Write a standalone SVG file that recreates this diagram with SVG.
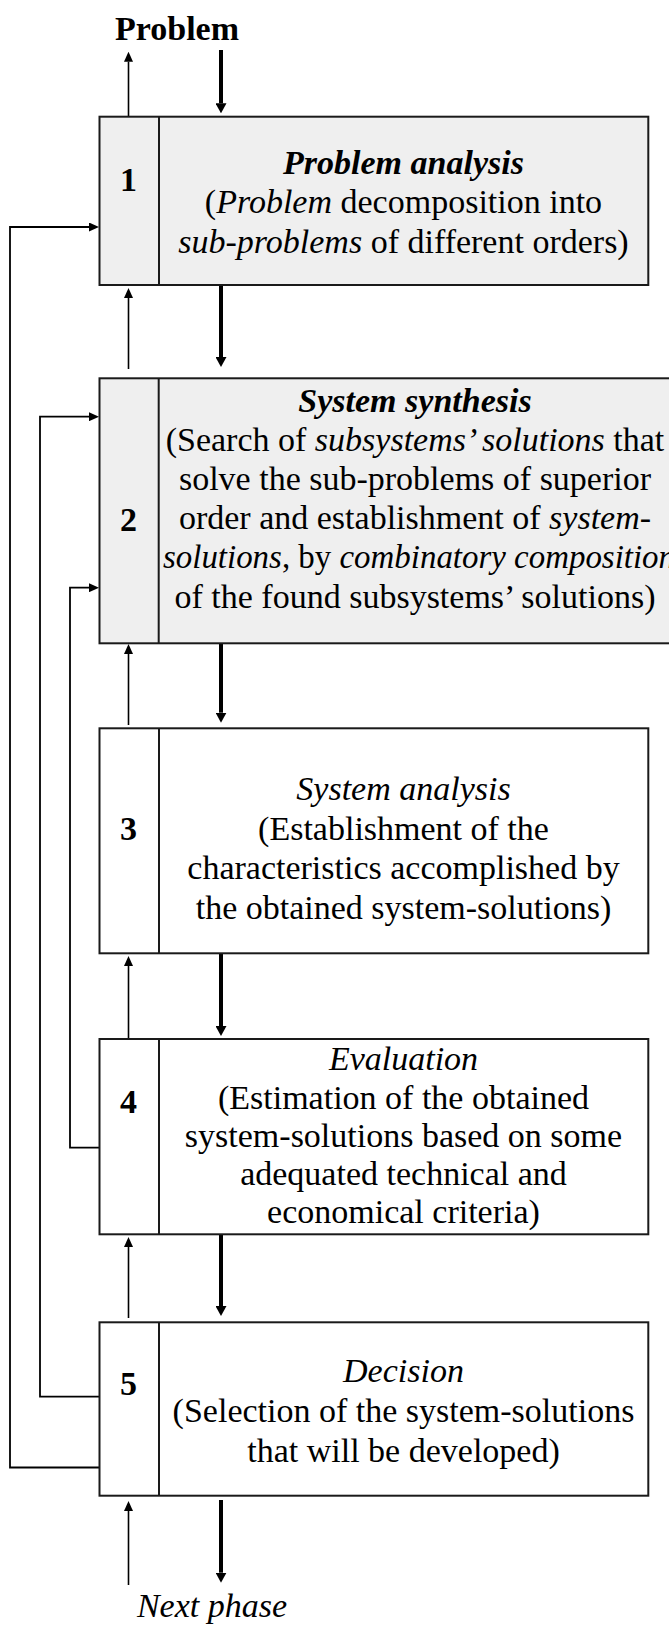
<svg xmlns="http://www.w3.org/2000/svg" width="669" height="1626" viewBox="0 0 669 1626">
<style>
  .box { stroke: #1a1a1a; stroke-width: 2; }
  .gray { fill: #efefef; }
  .white { fill: #ffffff; }
  .div { stroke: #1a1a1a; stroke-width: 2; fill: none; }
  text { font-family: "Liberation Serif", "Times New Roman", serif; font-size: 34px; fill: #000; }
  .c { text-anchor: middle; }
  .num { font-weight: bold; text-anchor: middle; }
  .i { font-style: italic; }
  .bi { font-style: italic; font-weight: bold; }
  .b { font-weight: bold; }
  .thin { stroke: #000; stroke-width: 1.6; fill: none; }
  .thick { stroke: #000; stroke-width: 4; fill: none; }
  .fb { stroke: #000; stroke-width: 1.8; fill: none; }
</style>
<defs>
  <marker id="hThin" markerUnits="userSpaceOnUse" markerWidth="10" markerHeight="9" refX="0" refY="4.5" orient="auto" viewBox="0 0 10 9">
    <path d="M0,0 L10,4.5 L0,9 z" fill="#000"/>
  </marker>
  <marker id="hThick" markerUnits="userSpaceOnUse" markerWidth="10" markerHeight="11" refX="0" refY="5.5" orient="auto" viewBox="0 0 10 11">
    <path d="M0,0 L10,5.5 L0,11 z" fill="#000"/>
  </marker>
</defs>

<g id="connectors">
  <line class="thin" x1="128.5" y1="116.7" x2="128.5" y2="61.7" marker-end="url(#hThin)"/>
  <line class="thin" x1="128.5" y1="369" x2="128.5" y2="298" marker-end="url(#hThin)"/>
  <line class="thin" x1="128.5" y1="725" x2="128.5" y2="654" marker-end="url(#hThin)"/>
  <line class="thin" x1="128.5" y1="1039" x2="128.5" y2="966" marker-end="url(#hThin)"/>
  <line class="thin" x1="128.5" y1="1318" x2="128.5" y2="1247" marker-end="url(#hThin)"/>
  <line class="thin" x1="128.5" y1="1585" x2="128.5" y2="1511" marker-end="url(#hThin)"/>
  <line class="thick" x1="221" y1="50" x2="221" y2="103.3" marker-end="url(#hThick)"/>
  <line class="thick" x1="221" y1="285" x2="221" y2="357" marker-end="url(#hThick)"/>
  <line class="thick" x1="221" y1="643" x2="221" y2="712.7" marker-end="url(#hThick)"/>
  <line class="thick" x1="221" y1="953" x2="221" y2="1026" marker-end="url(#hThick)"/>
  <line class="thick" x1="221" y1="1234" x2="221" y2="1306" marker-end="url(#hThick)"/>
  <line class="thick" x1="221" y1="1500" x2="221" y2="1572.7" marker-end="url(#hThick)"/>
  <polyline class="fb" points="99.5,1467.5 10,1467.5 10,227 89,227" marker-end="url(#hThin)"/>
  <polyline class="fb" points="99.5,1396.7 40,1396.7 40,416.7 89,416.7" marker-end="url(#hThin)"/>
  <polyline class="fb" points="99.5,1147.7 70,1147.7 70,587.7 89,587.7" marker-end="url(#hThin)"/>
</g>

<g id="label-problem">
  <text class="b c" x="177" y="40">Problem</text>
</g>

<g id="node1">
  <rect class="box gray" x="99.5" y="116.7" width="548.8" height="168.3"/>
  <line class="div" x1="159" y1="116.7" x2="159" y2="285"/>
  <text class="num" x="128.5" y="190.7">1</text>
  <text class="c" x="403.5" y="174"><tspan class="bi">Problem analysis</tspan></text>
  <text class="c" x="403.5" y="213.3">(<tspan class="i">Problem</tspan> decomposition into</text>
  <text class="c" x="403.5" y="252.7"><tspan class="i">sub-problems</tspan> of different orders)</text>
</g>

<g id="node2">
  <rect class="box gray" x="99.5" y="378.3" width="573" height="265"/>
  <line class="div" x1="158.7" y1="378.3" x2="158.7" y2="643.3"/>
  <text class="num" x="128.5" y="530.7">2</text>
  <text class="c" x="415" y="411.7"><tspan class="bi">System synthesis</tspan></text>
  <text class="c" x="415" y="450.5">(Search of <tspan class="i">subsystems’ solutions</tspan> that</text>
  <text class="c" x="415" y="489.5">solve the sub-problems of superior</text>
  <text class="c" x="415" y="528.5">order and establishment of <tspan class="i">system-</tspan></text>
  <text x="163" y="567.5" textLength="512" lengthAdjust="spacingAndGlyphs"><tspan class="i">solutions</tspan>, by <tspan class="i">combinatory composition</tspan></text>
  <text class="c" x="415" y="607.5">of the found subsystems’ solutions)</text>
</g>

<g id="node3">
  <rect class="box white" x="99.5" y="728.3" width="548.8" height="225"/>
  <line class="div" x1="159" y1="728.3" x2="159" y2="953.3"/>
  <text class="num" x="128.5" y="840">3</text>
  <text class="c" x="403.5" y="799.5"><tspan class="i">System analysis</tspan></text>
  <text class="c" x="403.5" y="839.5">(Establishment of the</text>
  <text class="c" x="403.5" y="879">characteristics accomplished by</text>
  <text class="c" x="403.5" y="918.5">the obtained system-solutions)</text>
</g>

<g id="node4">
  <rect class="box white" x="99.5" y="1039" width="548.8" height="195.3"/>
  <line class="div" x1="159" y1="1039" x2="159" y2="1234.3"/>
  <text class="num" x="128.5" y="1113">4</text>
  <text class="c" x="403.5" y="1070"><tspan class="i">Evaluation</tspan></text>
  <text class="c" x="403.5" y="1108.5">(Estimation of the obtained</text>
  <text class="c" x="403.5" y="1147">system-solutions based on some</text>
  <text class="c" x="403.5" y="1185">adequated technical and</text>
  <text class="c" x="403.5" y="1223">economical criteria)</text>
</g>

<g id="node5">
  <rect class="box white" x="99.5" y="1322.3" width="548.8" height="173.4"/>
  <line class="div" x1="159" y1="1322.3" x2="159" y2="1495.7"/>
  <text class="num" x="128.5" y="1395">5</text>
  <text class="c" x="403.5" y="1381.7"><tspan class="i">Decision</tspan></text>
  <text class="c" x="403.5" y="1421.7">(Selection of the system-solutions</text>
  <text class="c" x="403.5" y="1461.7">that will be developed)</text>
</g>

<g id="label-next">
  <text class="i c" x="212" y="1616.7">Next phase</text>
</g>
</svg>
